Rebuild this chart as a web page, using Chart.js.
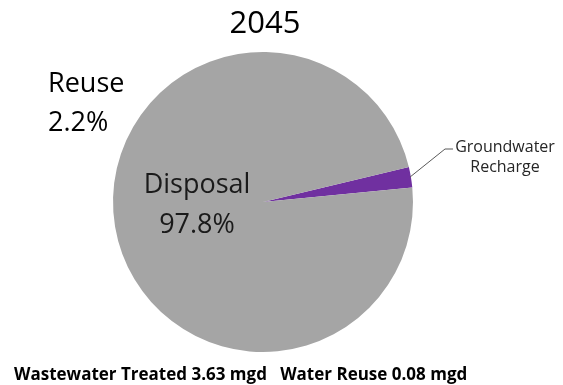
<!DOCTYPE html>
<html>
<head>
<meta charset="utf-8">
<script src="https://cdn.jsdelivr.net/npm/chart.js@4"></script>
<style>
html,body{margin:0;padding:0;background:#fff;}
canvas{display:block;}
</style>
</head>
<body>
<canvas id="c" width="563" height="385"></canvas>
<script>
const categories = ["Groundwater Recharge", "Disposal"];
const values = [2.2, 97.8];
const colors = ["#7030A0", "#A5A5A5"];
const titleText = "2045";
const reuseLabel = ["Reuse", "2.2%"];
const disposalLabel = ["Disposal", "97.8%"];
const calloutLabel = ["Groundwater", "Recharge"];
const footerText = "Wastewater Treated 3.63 mgd   Water Reuse 0.08 mgd";

const FONT = "'Open Sans', sans-serif";

const textPlugin = {
  id: 'texts',
  afterDraw(chart) {
    const ctx = chart.ctx;
    ctx.save();
    ctx.fillStyle = '#000';
    ctx.textBaseline = 'alphabetic';
    // title
    ctx.textAlign = 'center';
    ctx.font = "31px " + FONT;
    ctx.fillText(titleText, 265, 33);
    // Reuse
    ctx.textAlign = 'left';
    ctx.font = "27px " + FONT;
    ctx.fillText(reuseLabel[0], 48, 92);
    ctx.fillText(reuseLabel[1], 48, 131);
    // Disposal
    ctx.textAlign = 'center';
    ctx.fillStyle = '#1a1a1a';
    ctx.fillText(disposalLabel[0], 197, 193);
    ctx.fillText(disposalLabel[1], 197, 233);
    // callout
    const arc = chart.getDatasetMeta(0).data[0];
    const p = arc.getProps(['x','y','startAngle','endAngle','outerRadius'], true);
    const mid = (p.startAngle + p.endAngle) / 2;
    const sx = p.x + Math.cos(mid) * p.outerRadius;
    const sy = p.y + Math.sin(mid) * p.outerRadius;
    ctx.strokeStyle = '#595959';
    ctx.lineWidth = 1;
    ctx.beginPath();
    ctx.moveTo(sx - 1, sy);
    ctx.lineTo(445, 149);
    ctx.lineTo(453, 149);
    ctx.stroke();
    ctx.fillStyle = '#262626';
    ctx.font = "16px " + FONT;
    ctx.fillText(calloutLabel[0], 505, 152);
    ctx.fillText(calloutLabel[1], 505, 172);
    // footer
    ctx.fillStyle = '#000';
    ctx.textAlign = 'left';
    ctx.font = "bold 17px " + FONT;
    ctx.fillText(footerText, 14, 380);
    ctx.restore();
  }
};

new Chart(document.getElementById('c'), {
  type: 'pie',
  data: {
    labels: categories,
    datasets: [{
      data: values,
      backgroundColor: colors,
      borderWidth: 0
    }]
  },
  options: {
    responsive: false,
    animation: false,
    rotation: 76.5,
    layout: { padding: { top: 52, bottom: 33, left: 0, right: 37 } },
    plugins: {
      legend: { display: false },
      tooltip: { enabled: false },
      title: { display: false }
    }
  },
  plugins: [textPlugin]
});
</script>
</body>
</html>
